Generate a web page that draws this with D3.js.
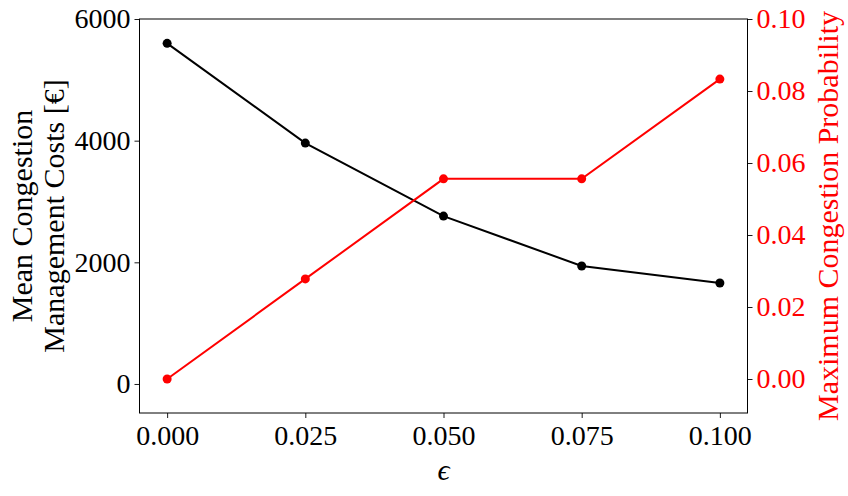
<!DOCTYPE html>
<html>
<head>
<meta charset="utf-8">
<script src="https://cdn.jsdelivr.net/npm/d3@7"></script>
<style>
  body { margin: 0; background: #fff; }
  text { font-family: "Liberation Serif", "DejaVu Serif", serif; }
</style>
</head>
<body>
<div id="chart"></div>
<script>
// data
const epsilons = [0.000, 0.025, 0.050, 0.075, 0.100];
const meanCosts = [5600, 3960, 2760, 1940, 1660];
const maxProb = [0.0, 0.0278, 0.0556, 0.0556, 0.0833];
const xTicks = [0.000, 0.025, 0.050, 0.075, 0.100];
const leftTicks = [0, 2000, 4000, 6000];
const rightTicks = [0.00, 0.02, 0.04, 0.06, 0.08, 0.10];

const width = 848, height = 496;
const margin = {top: 19, right: 100.5, bottom: 83, left: 139.5};
const plotW = width - margin.left - margin.right;
const plotH = height - margin.top - margin.bottom;

let svg = d3.select("#chart")
    .append("svg")
    .attr("width", width)
    .attr("height", height)
    .append("g")
    .attr("transform", "translate(" + margin.left + "," + margin.top + ")");

let x = d3.scaleLinear().domain([-0.005, 0.105]).range([0, plotW]);
let yLeft = d3.scaleLinear().domain([-477, 6000]).range([plotH, 0]);
let yRight = d3.scaleLinear().domain([-0.00944, 0.10]).range([plotH, 0]);

// axes
let xAxis = svg.append("g")
    .attr("transform", "translate(0," + plotH + ")")
    .call(d3.axisBottom(x).tickValues(xTicks).tickFormat(d3.format(".3f")).tickSize(5));

let lAxis = svg.append("g")
    .call(d3.axisLeft(yLeft).tickValues(leftTicks).tickFormat(d3.format("d")).tickSize(5).tickPadding(4));

let rAxis = svg.append("g")
    .attr("transform", "translate(" + plotW + ",0)")
    .call(d3.axisRight(yRight).tickValues(rightTicks).tickFormat(d3.format(".2f")).tickSize(5).tickPadding(4));

svg.selectAll(".domain").remove();
svg.selectAll(".tick line").attr("stroke", "#000").attr("stroke-width", 0.9);
svg.selectAll(".tick text").style("font-size", "28px").attr("fill", "#000");
rAxis.selectAll(".tick text").attr("fill", "red");
xAxis.selectAll(".tick text").attr("y", 32).attr("dy", 0);

// frame
svg.append("rect")
    .attr("width", plotW).attr("height", plotH)
    .attr("fill", "none").attr("stroke", "#000").attr("stroke-width", 1);

// lines
let lineL = d3.line().x((d, i) => x(epsilons[i])).y(d => yLeft(d));
let lineR = d3.line().x((d, i) => x(epsilons[i])).y(d => yRight(d));

svg.append("path").datum(meanCosts)
    .attr("d", lineL).attr("fill", "none").attr("stroke", "#000").attr("stroke-width", 2);
svg.selectAll(".dotL").data(meanCosts).enter().append("circle")
    .attr("cx", (d, i) => x(epsilons[i])).attr("cy", d => yLeft(d)).attr("r", 4.5).attr("fill", "#000");

svg.append("path").datum(maxProb)
    .attr("d", lineR).attr("fill", "none").attr("stroke", "red").attr("stroke-width", 2);
svg.selectAll(".dotR").data(maxProb).enter().append("circle")
    .attr("cx", (d, i) => x(epsilons[i])).attr("cy", d => yRight(d)).attr("r", 4.5).attr("fill", "red");

// labels
svg.append("text")
    .attr("x", plotW / 2).attr("y", plotH + 67)
    .style("text-anchor", "middle").style("font-size", "30px").style("font-style", "italic")
    .text("ϵ");

let ly = svg.append("text")
    .attr("transform", `translate(0, ${plotH / 2}) rotate(-90)`)
    .style("text-anchor", "middle").style("font-size", "30px");
ly.append("tspan").attr("x", 0).attr("y", 32 - margin.left).text("Mean Congestion");
ly.append("tspan").attr("x", 0).attr("y", 64 - margin.left).text("Management Costs [€]");

svg.append("text")
    .attr("transform", `translate(${plotW + 90}, ${plotH / 2}) rotate(-90)`)
    .style("text-anchor", "middle").style("font-size", "30px").attr("fill", "red")
    .text("Maximum Congestion Probability");
</script>
</body>
</html>
